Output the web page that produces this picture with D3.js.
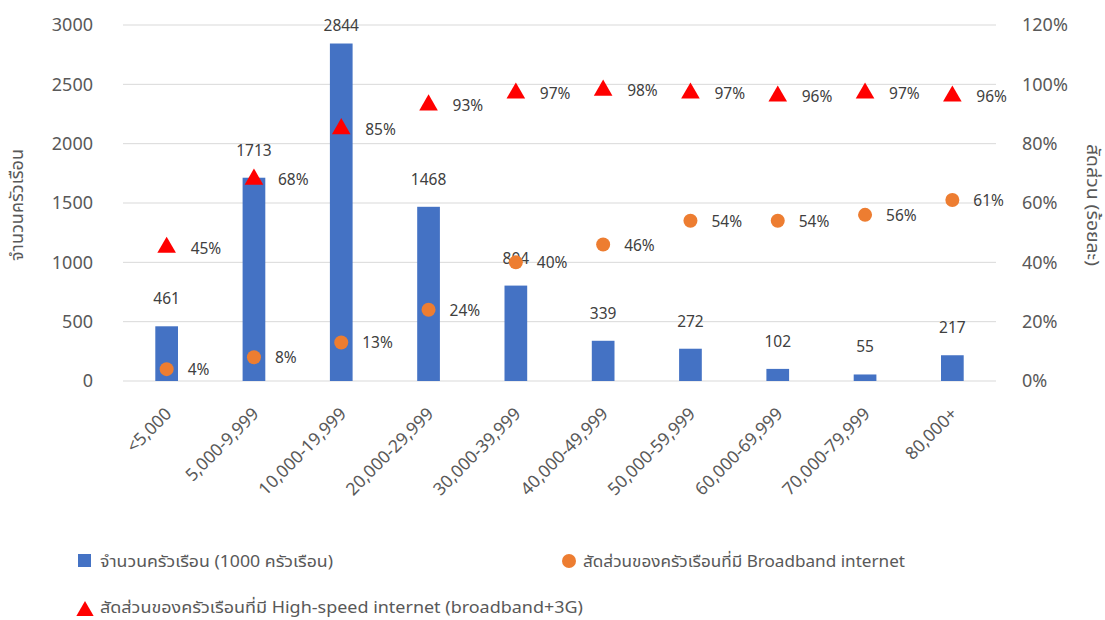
<!DOCTYPE html>
<html><head><meta charset="utf-8">
<script src="https://cdn.jsdelivr.net/npm/d3@7"></script>
<style>
body{margin:0;background:#fff;}
text{font-family:"Noto Sans Thai","Noto Sans","DejaVu Sans",sans-serif;}
</style></head>
<body><svg id="c" width="1105" height="620"></svg>
<script>
const categories=["<5,000","5,000-9,999","10,000-19,999","20,000-29,999","30,000-39,999","40,000-49,999","50,000-59,999","60,000-69,999","70,000-79,999","80,000+"];
const households=[461,1713,2844,1468,804,339,272,102,55,217];
const broadband=[4,8,13,24,40,46,54,54,56,61];
const highspeed=[45,68,85,93,97,98,97,96,97,96];
const leftTicks=[0,500,1000,1500,2000,2500,3000];
const rightTicks=[0,20,40,60,80,100,120];

const svg=d3.select("#c");
const L=123,R=996,T=25,B=381;
const numFont="'Open Sans','Noto Sans',sans-serif";
const x=d3.scaleBand().domain(categories).range([L,R]).paddingInner(0.74).paddingOuter(0.37);
const y=d3.scaleLinear().domain([0,3000]).range([B,T]);
const y2=d3.scaleLinear().domain([0,120]).range([B,T]);
const cx=c=>x(c)+x.bandwidth()/2;

// gridlines
svg.append("g").selectAll("line").data(leftTicks).join("line")
 .attr("x1",L).attr("x2",R).attr("y1",d=>y(d)).attr("y2",d=>y(d))
 .attr("stroke","#d9d9d9").attr("stroke-width",1);

// left axis
const ga=svg.append("g").attr("transform",`translate(${L-30},0)`)
 .call(d3.axisLeft(y).tickValues(leftTicks).tickSize(0).tickPadding(0).tickFormat(d3.format("d")));
ga.select(".domain").remove();
ga.selectAll("text").attr("font-size",18).attr("fill","#595959").attr("font-family",numFont);

// right axis
const gr=svg.append("g").attr("transform",`translate(${R+26},0)`)
 .call(d3.axisRight(y2).tickValues(rightTicks).tickSize(0).tickPadding(0).tickFormat(d=>d+"%"));
gr.select(".domain").remove();
gr.selectAll("text").attr("font-size",18).attr("fill","#595959").attr("font-family",numFont);

// x axis labels
svg.append("g").selectAll("text").data(categories).join("text")
 .attr("transform",d=>`translate(${cx(d)+6},${B+34}) rotate(-45)`)
 .attr("text-anchor","end").attr("font-size",17.5).attr("fill","#595959")
 .attr("font-family",numFont).text(d=>d);

// bars
svg.append("g").selectAll("rect").data(households).join("rect")
 .attr("x",(d,i)=>x(categories[i])).attr("width",x.bandwidth())
 .attr("y",d=>y(d)).attr("height",d=>B-y(d)).attr("fill","#4472c4");

// bar labels (kept inside the plot area, like the original)
svg.append("g").selectAll("text").data(households).join("text")
 .attr("x",(d,i)=>cx(categories[i])).attr("y",d=>Math.max(y(d)-22,T+6))
 .attr("text-anchor","middle").attr("font-size",15.5).attr("fill","#404040")
 .attr("font-family",numFont).text(d=>d);

// broadband circles
svg.append("g").selectAll("circle").data(broadband).join("circle")
 .attr("cx",(d,i)=>cx(categories[i])).attr("cy",d=>y2(d)).attr("r",7)
 .attr("fill","#ed7d31");
svg.append("g").selectAll("text").data(broadband).join("text")
 .attr("x",(d,i)=>cx(categories[i])+21).attr("y",d=>y2(d)+6)
 .attr("font-size",15.5).attr("fill","#404040")
 .attr("font-family",numFont).text(d=>d+"%");

// highspeed triangles
const tri=d3.symbol().type(d3.symbolTriangle).size(150);
svg.append("g").selectAll("path").data(highspeed).join("path")
 .attr("transform",(d,i)=>`translate(${cx(categories[i])},${y2(d)})`)
 .attr("d",tri).attr("fill","#ff0000");
svg.append("g").selectAll("text").data(highspeed).join("text")
 .attr("x",(d,i)=>cx(categories[i])+24).attr("y",d=>y2(d)+6)
 .attr("font-size",15.5).attr("fill","#404040")
 .attr("font-family",numFont).text(d=>d+"%");

// axis titles
svg.append("text").attr("transform","translate(23,205) rotate(-90)")
 .attr("text-anchor","middle").attr("font-size",17).attr("fill","#595959")
 .attr("textLength",112).attr("lengthAdjust","spacingAndGlyphs").text("จำนวนครัวเรือน");
svg.append("text").attr("transform","translate(1087,205) rotate(90)")
 .attr("text-anchor","middle").attr("font-size",17).attr("fill","#595959")
 .attr("textLength",122).attr("lengthAdjust","spacingAndGlyphs").text("สัดส่วน (ร้อยละ)");

// legend
const lg=svg.append("g");
lg.append("rect").attr("x",78).attr("y",554).attr("width",13).attr("height",13).attr("fill","#4472c4");
lg.append("text").attr("x",100).attr("y",567).attr("font-size",16).attr("fill","#595959")
 .attr("textLength",233).attr("lengthAdjust","spacingAndGlyphs").text("จำนวนครัวเรือน (1000 ครัวเรือน)");
lg.append("circle").attr("cx",569).attr("cy",561).attr("r",7).attr("fill","#ed7d31");
lg.append("text").attr("x",583).attr("y",567).attr("font-size",16).attr("fill","#595959")
 .attr("textLength",322).attr("lengthAdjust","spacingAndGlyphs").text("สัดส่วนของครัวเรือนที่มี Broadband internet");
lg.append("path").attr("transform","translate(85,611)").attr("d",d3.symbol().type(d3.symbolTriangle).size(130)).attr("fill","#ff0000");
lg.append("text").attr("x",100).attr("y",613).attr("font-size",16).attr("fill","#595959")
 .attr("textLength",483).attr("lengthAdjust","spacingAndGlyphs").text("สัดส่วนของครัวเรือนที่มี High-speed internet (broadband+3G)");
</script></body></html>
